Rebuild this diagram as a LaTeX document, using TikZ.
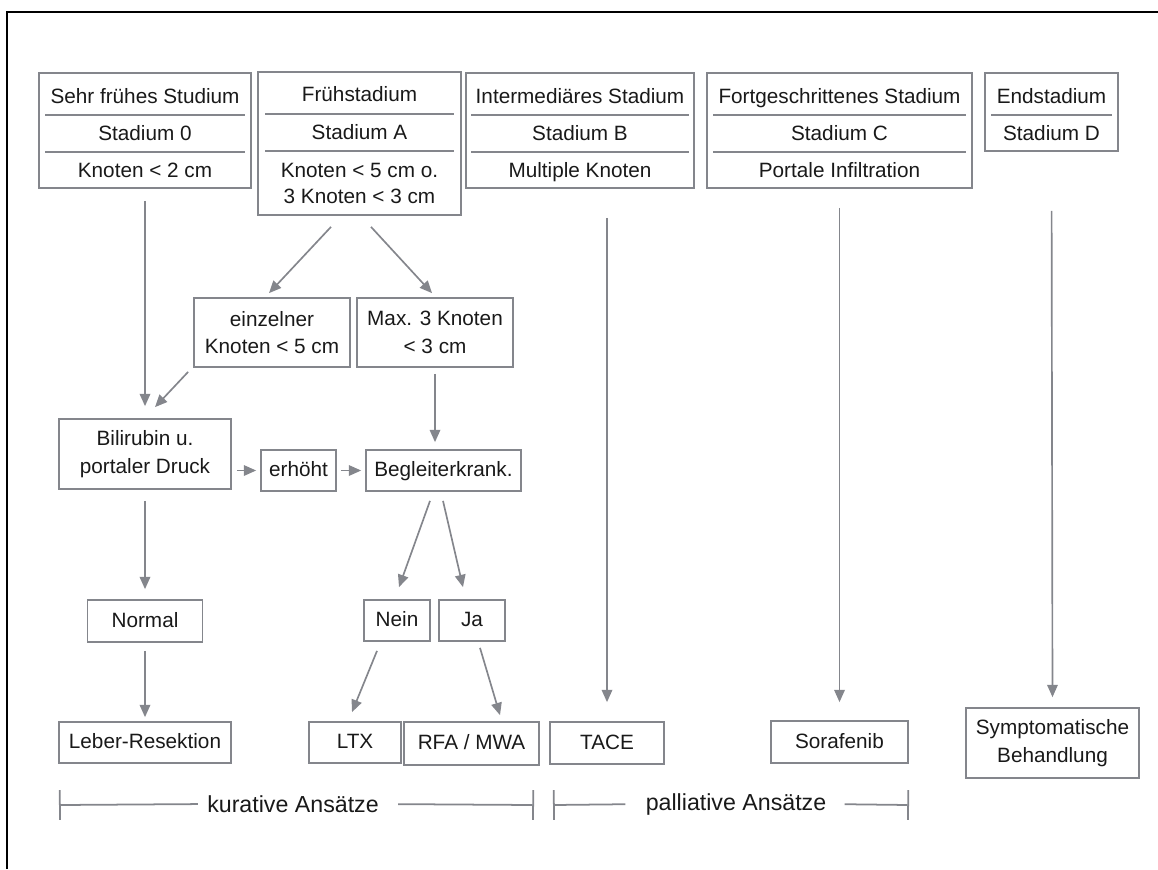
\documentclass[tikz,border=0pt]{standalone}
\usepackage{fontspec}
\setmainfont{Liberation Sans}
\usetikzlibrary{arrows.meta,calc}

\definecolor{boxgray}{RGB}{132,134,140}
\definecolor{txtgray}{RGB}{25,25,25}

\tikzset{
  box/.style={draw=boxgray, line width=1pt, inner sep=0pt, text=txtgray, align=center,
    font=\fontsize{11.8}{15.6}\selectfont},
  onebox/.style={box, text height=1.6ex, text depth=0.3ex},
  txt/.style={inner sep=0pt, text=txtgray, align=center, anchor=base,
    font=\fontsize{11.8}{14.7}\selectfont},
  divider/.style={draw=boxgray, line width=1pt},
  arr/.style={draw=boxgray, line width=0.95pt, -{Triangle[length=7pt,width=6pt]}},
  bar/.style={draw=boxgray, line width=1pt},
  grouplabel/.style={inner sep=0pt, text=txtgray, font=\fontsize{13.2}{15}\selectfont},
}

\begin{document}
\begin{tikzpicture}[x=0.02cm, y=-0.02cm]
  \useasboundingbox (0,0) rectangle (1158,869);
  % frame
  \draw[line width=1.2pt] (7,869) -- (7,12) -- (1158,12);

  % stages
  \node[box, minimum width=4.24cm, minimum height=2.30cm] (s0) at (145,130.5) {};
  \node[txt] (s0a) at (145,103.5) {Sehr frühes Studium};
  \node[txt] (s0b) at (145,140.5) {Stadium 0};
  \node[txt] (s0c) at (145,177.5) {Knoten < 2 cm};
  \draw[divider] ($(s0.north west)+(7,43)$) -- ($(s0.north east)+(-7,43)$);
  \draw[divider] ($(s0.north west)+(7,80)$) -- ($(s0.north east)+(-7,80)$);

  \node[box, minimum width=4.06cm, minimum height=2.86cm] (sA) at (359.5,143.5) {};
  \node[txt] (sAa) at (359.5,101.5) {Frühstadium};
  \node[txt] (sAb) at (359.5,139.5) {Stadium A};
  \node[txt] (sAc) at (359.5,177.5) {Knoten < 5 cm o.};
  \node[txt] (sAd) at (359.5,203.5) {3 Knoten < 3 cm};
  \draw[divider] ($(sA.north west)+(8,43)$) -- ($(sA.north east)+(-8,43)$);
  \draw[divider] ($(sA.north west)+(8,80)$) -- ($(sA.north east)+(-8,80)$);

  \node[box, minimum width=4.56cm, minimum height=2.30cm] (sB) at (580,130.5) {};
  \node[txt] (sBa) at (580,103.5) {Intermediäres Stadium};
  \node[txt] (sBb) at (580,140.5) {Stadium B};
  \node[txt] (sBc) at (580,177.5) {Multiple Knoten};
  \draw[divider] ($(sB.north west)+(6,43)$) -- ($(sB.north east)+(-6,43)$);
  \draw[divider] ($(sB.north west)+(6,80)$) -- ($(sB.north east)+(-6,80)$);

  \node[box, minimum width=5.30cm, minimum height=2.30cm] (sC) at (839.5,130.5) {};
  \node[txt] (sCa) at (839.5,103.5) {Fortgeschrittenes Stadium};
  \node[txt] (sCb) at (839.5,140.5) {Stadium C};
  \node[txt] (sCc) at (839.5,177.5) {Portale Infiltration};
  \draw[divider] ($(sC.north west)+(7,43)$) -- ($(sC.north east)+(-7,43)$);
  \draw[divider] ($(sC.north west)+(7,80)$) -- ($(sC.north east)+(-7,80)$);

  \node[box, minimum width=2.66cm, minimum height=1.56cm] (sD) at (1051.5,112) {};
  \node[txt] (sDa) at (1051.5,103.5) {Endstadium};
  \node[txt] (sDb) at (1051.5,140.5) {Stadium D};
  \draw[divider] ($(sD.north west)+(7,43)$) -- ($(sD.north east)+(-7,43)$);

  % decisions
  \node[box, minimum width=3.12cm, minimum height=1.38cm] (einz) at (272,332.5) {einzelner\\Knoten < 5 cm};
  \node[box, minimum width=3.12cm, minimum height=1.38cm] (max) at (435,332.5) {Max. 3 Knoten\\< 3 cm};
  \node[box, minimum width=3.44cm, minimum height=1.40cm] (bili) at (145,454) {Bilirubin u.\\portaler Druck};
  \node[onebox, minimum width=1.50cm, minimum height=0.82cm] (erh) at (298.5,470.5) {erhöht};
  \node[onebox, minimum width=3.10cm, minimum height=0.82cm] (begl) at (443.5,470.5) {Begleiterkrank.};
  \node[onebox, minimum width=2.30cm, minimum height=0.84cm] (normal) at (145,621) {Normal};
  \node[onebox, minimum width=1.32cm, minimum height=0.82cm] (nein) at (397,620.5) {Nein};
  \node[onebox, minimum width=1.32cm, minimum height=0.82cm] (ja) at (472,620.5) {Ja};

  % therapies
  \node[onebox, minimum width=3.44cm, minimum height=0.82cm] (leber) at (145,742.5) {Leber-Resektion};
  \node[onebox, minimum width=1.84cm, minimum height=0.82cm] (ltx) at (355,742.5) {LTX};
  \node[onebox, minimum width=2.70cm, minimum height=0.86cm] (rfa) at (471.5,743.5) {RFA / MWA};
  \node[onebox, minimum width=2.28cm, minimum height=0.84cm] (tace) at (607,743) {TACE};
  \node[onebox, minimum width=2.74cm, minimum height=0.84cm] (sora) at (839.5,742) {Sorafenib};
  \node[box, minimum width=3.46cm, minimum height=1.40cm] (symp) at (1052.5,743) {Symptomatische\\Behandlung};

  % arrows
  \draw[arr] ($(s0.south)+(0,12)$) -- ($(bili.north)+(0,-12)$);
  \draw[arr] ($(sA.south)+(-28.5,11)$) -- ($(einz.north)+(-3,-4)$);
  \draw[arr] ($(sA.south)+(11.5,11)$) -- ($(max.north)+(-3,-4)$);
  \draw[arr] ($(einz.south west)+(-5,4)$) -- ($(bili.north)+(10,-11)$);
  \draw[arr, shorten <=0.12cm, shorten >=0.14cm] (max.south) -- (max.south |- begl.north);
  \draw[arr, shorten <=0.1cm, shorten >=0.08cm] (bili.east |- erh.west) -- (erh.west);
  \draw[arr, shorten <=0.08cm, shorten >=0.08cm] (erh.east) -- (begl.west);
  \draw[arr, shorten <=0.22cm, shorten >=0.2cm] (bili.south) -- (normal.north);
  \draw[arr] ($(begl.south)+(-13.5,9)$) -- ($(nein.north)+(2,-12)$);
  \draw[arr] ($(begl.south)+(-0.5,9)$) -- ($(ja.north)+(-9,-12)$);
  \draw[arr, shorten <=0.16cm, shorten >=0.08cm] (normal.south) -- (leber.north);
  \draw[arr] ($(nein.south)+(-20,9)$) -- ($(ltx.north)+(-3,-9)$);
  \draw[arr] ($(ja.south)+(8,6)$) -- ($(rfa.north)+(28.5,-6)$);
  \draw[arr, shorten <=0.58cm, shorten >=0.38cm] (tace.north |- sB.south) -- (tace.north);
  \draw[arr, shorten <=0.38cm, shorten >=0.36cm] (sC.south) -- (sora.north);
  \draw[arr, shorten <=1.18cm, shorten >=0.2cm] (sD.south) -- (symp.north);

  % groups
  \coordinate (kurL) at (59,805);
  \coordinate (kurR) at (534,805);
  \node[grouplabel] (kur) at (293,804) {kurative Ansätze};
  \draw[bar, {Bar[width=17pt]}-, shorten >=0.18cm] (kurL) -- (kur.west);
  \draw[bar, -{Bar[width=17pt]}, shorten <=0.38cm] (kur.east) -- (kurR);

  \coordinate (palL) at (553,805);
  \coordinate (palR) at (909,805);
  \node[grouplabel] (pal) at (736,804) {palliative Ansätze};
  \draw[bar, {Bar[width=17pt]}-, shorten >=0.4cm] (palL) -- (pal.west);
  \draw[bar, -{Bar[width=17pt]}, shorten <=0.36cm] (pal.east) -- (palR);
\end{tikzpicture}
\end{document}
